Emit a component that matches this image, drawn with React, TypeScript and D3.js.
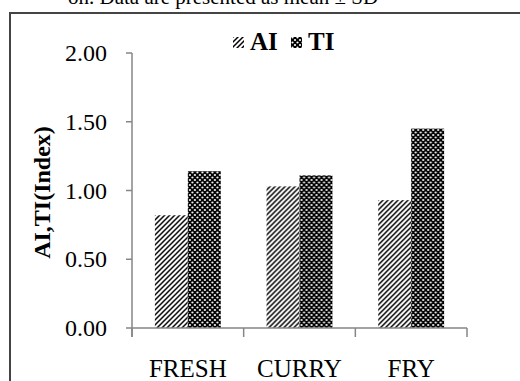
import React from "react";
import * as d3 from "d3";

const categories = ["FRESH", "CURRY", "FRY"];
const seriesNames = ["AI", "TI"];
const aiValues = [0.82, 1.03, 0.93];
const tiValues = [1.14, 1.11, 1.45];
const yTicks = [0, 0.5, 1, 1.5, 2];
const caption = "on. Data are presented as mean \u00b1 SD";
const yTitle = "AI,TI(Index)";

const W = 520;
const H = 381;
const FONT = "Liberation Serif, DejaVu Serif, Times New Roman, serif";
const AXIS = "#868686";

export default function App() {
  const x = d3.scaleBand<string>().domain(categories).range([132, 467]).padding(0);
  const bw = x.bandwidth();
  const groupW = bw * 0.59;
  const xs = d3.scaleBand<string>().domain(seriesNames).range([0, groupW]).padding(0);
  const y = d3.scaleLinear().domain([0, 2]).range([328, 53]);
  const series = [
    { name: "AI", values: aiValues, fill: "url(#patAI)" },
    { name: "TI", values: tiValues, fill: "url(#patTI)" },
  ];
  const y0 = y(0);
  const [xl, xr] = x.range();

  return (
    <svg width={W} height={H} style={{ position: "absolute", left: 0, top: 0, background: "#fff", fontFamily: FONT }}>
      <defs>
        <pattern id="patAI" patternUnits="userSpaceOnUse" width={5} height={5}>
          <rect width={5} height={5} fill="#fff" />
          <path d="M-1,1 l2,-2 M0,5 l5,-5 M4,6 l2,-2" stroke="#000" strokeWidth={1.5} />
        </pattern>
        <pattern id="patTI" patternUnits="userSpaceOnUse" width={5} height={5}>
          <rect width={5} height={5} fill="#000" />
          <circle cx={0} cy={0} r={1.1} fill="#fff" />
          <circle cx={5} cy={0} r={1.1} fill="#fff" />
          <circle cx={0} cy={5} r={1.1} fill="#fff" />
          <circle cx={5} cy={5} r={1.1} fill="#fff" />
          <circle cx={2.5} cy={2.5} r={1.1} fill="#fff" />
        </pattern>
      </defs>

      {/* caption, clipped at top */}
      <text x={68} y={4} fontFamily={FONT} fontSize={21} fill="#000">{caption}</text>

      {/* frame */}
      <rect x={10} y={13} width={W + 20} height={H + 20} fill="none" stroke="#444" strokeWidth={2} />

      {/* bars */}
      {categories.map((c, i) => (
        <g key={c} transform={`translate(${(x(c) as number) + (bw - groupW) / 2},0)`}>
          {series.map((s) => (
            <rect
              key={s.name}
              x={xs(s.name) as number}
              y={y(s.values[i])}
              width={xs.bandwidth()}
              height={y0 - y(s.values[i])}
              fill={s.fill}
            />
          ))}
        </g>
      ))}

      {/* y axis */}
      <line x1={xl} x2={xl} y1={y(2)} y2={y0 + 9} stroke={AXIS} strokeWidth={1.5} />
      {yTicks.map((t) => (
        <g key={t}>
          <line x1={xl - 6} x2={xl} y1={y(t)} y2={y(t)} stroke={AXIS} strokeWidth={1.5} />
          <text x={107} y={y(t) + 8} textAnchor="end" fontFamily={FONT} fontSize={24} fill="#000">
            {d3.format(".2f")(t)}
          </text>
        </g>
      ))}

      {/* x axis */}
      <line x1={xl} x2={xr} y1={y0} y2={y0} stroke={AXIS} strokeWidth={1.5} />
      {[...categories.map((c) => x(c) as number), xr].map((p, i) => (
        <line key={i} x1={p} x2={p} y1={y0} y2={y0 + 9} stroke={AXIS} strokeWidth={1.5} />
      ))}
      {categories.map((c) => (
        <text key={c} x={(x(c) as number) + bw / 2} y={377} textAnchor="middle" fontFamily={FONT} fontSize={25} fill="#000">
          {c}
        </text>
      ))}

      {/* y title */}
      <text
        transform={`translate(50,${(y(2) + y0) / 2 + 2}) rotate(-90)`}
        textAnchor="middle"
        fontFamily={FONT}
        fontSize={24}
        fontWeight="bold"
        fill="#000"
      >
        {yTitle}
      </text>

      {/* legend */}
      <g>
        <rect x={233} y={37} width={11} height={11} fill="url(#patAI)" />
        <text x={250} y={50} fontFamily={FONT} fontSize={25} fontWeight="bold" fill="#000">AI</text>
        <rect x={291} y={37} width={11} height={11} fill="url(#patTI)" />
        <text x={308} y={50} fontFamily={FONT} fontSize={25} fontWeight="bold" fill="#000">TI</text>
      </g>
    </svg>
  );
}
